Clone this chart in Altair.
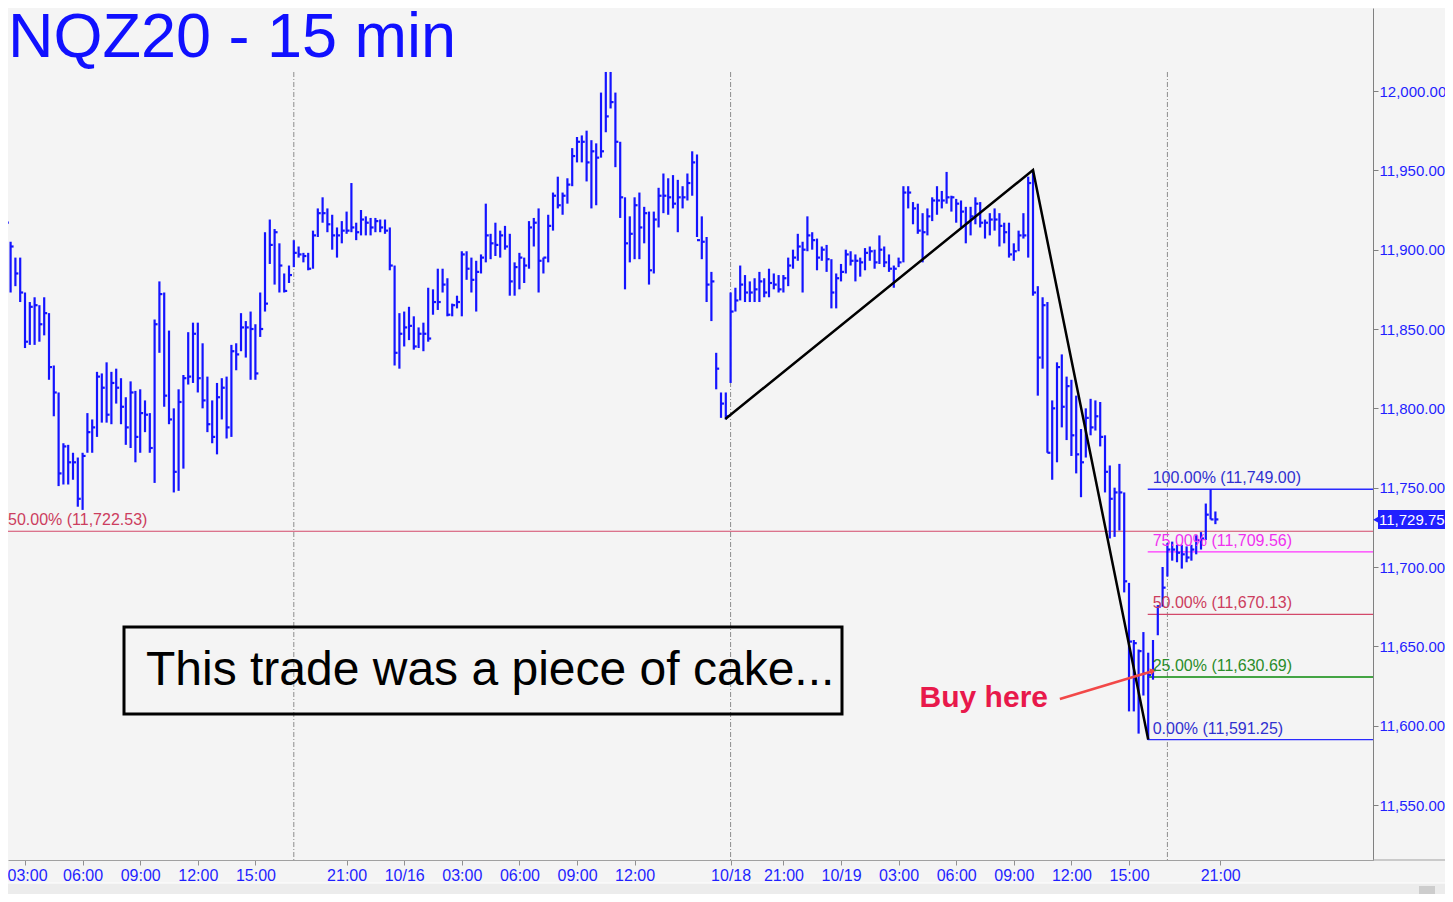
import altair as alt
import pandas as pd

# ---------------- data ----------------
hi = [11920, 11917, 11905, 11895, 11895, 11873, 11867, 11870, 11865, 11870,
      11860, 11827, 11810, 11778, 11777, 11772, 11769, 11772, 11797, 11793,
      11823, 11822, 11829, 11823, 11825, 11819, 11807, 11817, 11811, 11812,
      11805, 11797, 11856, 11880, 11873, 11849, 11800, 11812, 11821, 11848,
      11854, 11854, 11841, 11820, 11805, 11816, 11819, 11820, 11840, 11841,
      11860, 11855, 11861, 11853, 11873, 11911, 11919, 11913, 11904, 11885,
      11890, 11906, 11902, 11898, 11898, 11912, 11926, 11933, 11926, 11922,
      11914, 11918, 11924, 11942, 11917, 11925, 11921, 11920, 11920, 11919,
      11919, 11914, 11890, 11860, 11861, 11864, 11858, 11851, 11854, 11876,
      11875, 11888, 11888, 11882, 11866, 11871, 11899, 11899, 11895, 11893,
      11897, 11929, 11910, 11917, 11912, 11915, 11910, 11892, 11898, 11895,
      11918, 11920, 11926, 11895, 11922, 11936, 11946, 11936, 11945, 11964,
      11971, 11972, 11975, 11969, 11967, 11999, 12012, 12012, 11999, 11968,
      11933, 11921, 11933, 11936, 11927, 11924, 11924, 11939, 11948, 11945,
      11947, 11944, 11940, 11948, 11962, 11960, 11921, 11908, 11886, 11835,
      11810, 11810, 11873, 11876, 11890, 11884, 11880, 11882, 11886, 11882,
      11888, 11885, 11884, 11884, 11895, 11900, 11910, 11905, 11921, 11911,
      11907, 11902, 11903, 11894, 11885, 11891, 11900, 11899, 11897, 11895,
      11901, 11902, 11900, 11909, 11902, 11897, 11890, 11895, 11940, 11940,
      11930, 11929, 11923, 11926, 11933, 11940, 11937, 11949, 11934, 11932,
      11931, 11927, 11927, 11933, 11930, 11919, 11923, 11926, 11923, 11917,
      11917, 11904, 11912, 11923, 11946, 11950, 11877, 11870, 11867, 11805,
      11829, 11834, 11820, 11818, 11808, 11787, 11800, 11806, 11805, 11804,
      11783, 11764, 11750, 11765, 11747, 11690, 11654, 11648, 11659, 11646,
      11654, 11676, 11700, 11715, 11716, 11714, 11714, 11713, 11714, 11720,
      11722, 11740, 11749, 11735]

lo = [11900, 11899, 11873, 11877, 11867, 11838, 11840, 11840, 11842, 11846,
      11818, 11795, 11751, 11752, 11752, 11755, 11738, 11736, 11772, 11772,
      11782, 11791, 11791, 11790, 11803, 11790, 11777, 11775, 11766, 11772,
      11785, 11772, 11753, 11835, 11801, 11790, 11747, 11748, 11762, 11815,
      11816, 11810, 11800, 11785, 11778, 11771, 11793, 11781, 11782, 11824,
      11836, 11832, 11818, 11818, 11845, 11861, 11891, 11878, 11873, 11873,
      11879, 11889, 11895, 11892, 11887, 11888, 11908, 11917, 11911, 11900,
      11895, 11904, 11910, 11911, 11906, 11909, 11909, 11909, 11911, 11911,
      11910, 11887, 11827, 11825, 11839, 11843, 11837, 11838, 11836, 11842,
      11859, 11862, 11873, 11858, 11858, 11863, 11858, 11881, 11873, 11861,
      11885, 11892, 11894, 11896, 11895, 11900, 11871, 11871, 11875, 11879,
      11888, 11902, 11873, 11885, 11892, 11912, 11926, 11922, 11929, 11940,
      11955, 11955, 11943, 11926, 11928, 11958, 11974, 11989, 11952, 11920,
      11875, 11892, 11894, 11894, 11904, 11878, 11885, 11914, 11923, 11922,
      11926, 11911, 11926, 11931, 11934, 11908, 11894, 11867, 11855, 11812,
      11794, 11793, 11816, 11861, 11868, 11867, 11867, 11867, 11867, 11870,
      11870, 11875, 11873, 11873, 11877, 11888, 11893, 11873, 11899, 11900,
      11887, 11893, 11886, 11863, 11863, 11880, 11885, 11890, 11880, 11883,
      11887, 11893, 11888, 11891, 11889, 11886, 11876, 11889, 11892, 11926,
      11916, 11910, 11892, 11909, 11918, 11922, 11926, 11929, 11924, 11917,
      11914, 11904, 11909, 11916, 11914, 11907, 11909, 11912, 11902, 11904,
      11895, 11893, 11899, 11907, 11895, 11871, 11808, 11825, 11772, 11755,
      11766, 11788, 11780, 11770, 11759, 11744, 11769, 11783, 11786, 11776,
      11747, 11718, 11719, 11723, 11684, 11609, 11609, 11595, 11619, 11591,
      11629, 11657, 11675, 11694, 11704, 11703, 11699, 11703, 11704, 11708,
      11711, 11717, 11730, 11727]

close = [11917, 11917, 11902, 11885, 11873, 11842, 11864, 11865, 11853, 11860,
         11826, 11810, 11759, 11776, 11766, 11766, 11743, 11770, 11785, 11788,
         11820, 11813, 11796, 11816, 11813, 11801, 11788, 11810, 11782, 11797,
         11796, 11775, 11853, 11872, 11808, 11793, 11760, 11804, 11819, 11820,
         11847, 11819, 11805, 11790, 11782, 11807, 11813, 11788, 11836, 11834,
         11851, 11851, 11850, 11822, 11850, 11866, 11903, 11911, 11890, 11874,
         11884, 11898, 11897, 11896, 11888, 11909, 11923, 11923, 11916, 11909,
         11909, 11912, 11912, 11914, 11911, 11919, 11917, 11914, 11918, 11914,
         11912, 11890, 11835, 11847, 11851, 11852, 11839, 11847, 11847, 11844,
         11867, 11867, 11878, 11859, 11865, 11867, 11897, 11888, 11881, 11886,
         11895, 11909, 11904, 11903, 11909, 11902, 11880, 11889, 11895, 11890,
         11914, 11917, 11893, 11895, 11915, 11934, 11928, 11934, 11941, 11959,
         11968, 11968, 11955, 11962, 11958, 11962, 11984, 11993, 11968, 11933,
         11904, 11910, 11928, 11914, 11923, 11887, 11919, 11934, 11934, 11933,
         11929, 11933, 11933, 11942, 11955, 11906, 11905, 11878, 11880, 11825,
         11803, 11795, 11861, 11868, 11878, 11873, 11873, 11875, 11880, 11873,
         11879, 11878, 11875, 11882, 11890, 11895, 11902, 11900, 11909, 11906,
         11895, 11900, 11894, 11873, 11882, 11886, 11897, 11893, 11893, 11892,
         11898, 11899, 11892, 11900, 11892, 11888, 11888, 11892, 11936, 11936,
         11926, 11912, 11911, 11921, 11931, 11931, 11931, 11933, 11933, 11929,
         11924, 11917, 11921, 11929, 11917, 11917, 11919, 11919, 11915, 11911,
         11897, 11899, 11909, 11909, 11942, 11873, 11832, 11865, 11772, 11800,
         11826, 11801, 11814, 11783, 11771, 11766, 11794, 11788, 11795, 11782,
         11760, 11743, 11747, 11747, 11691, 11653, 11652, 11647, 11633, 11632,
         11635, 11675, 11687, 11711, 11711, 11709, 11708, 11706, 11711, 11717,
         11718, 11733, 11730, 11730]

tick_idx = [5, 17, 29, 41, 53, 72, 84, 96, 108, 120, 132, 152, 163, 175, 187,
            199, 211, 223, 235, 254]
tick_lab = ["03:00", "06:00", "09:00", "12:00", "15:00", "21:00", "10/16",
            "03:00", "06:00", "09:00", "12:00", "10/18", "21:00", "10/19",
            "03:00", "06:00", "09:00", "12:00", "15:00", "21:00"]
price_ticks = [11550, 11600, 11650, 11700, 11750, 11800, 11850, 11900, 11950, 12000]

session_breaks = [61, 152, 243]

fib_pct = ["100.00%", "75.00%", "50.00%", "25.00%", "0.00%"]
fib_val = [11749.00, 11709.56, 11670.13, 11630.69, 11591.25]

swing_i = [150.9, 215, 239]
swing_p = [11793.3, 11950.2, 11591.25]

arrow_i = [220.6, 240.0]
arrow_p = [11616.8, 11634.5]

mid_level = 11722.53
last_price = 11729.75

title_text = "NQZ20 - 15 min"
box_text = "This trade was a piece of cake..."
buy_text = "Buy here"

# ---------------- styling ----------------
FONT = "Liberation Sans"
BAR = "#1414ff"
AXBLUE = "#1f1fff"
RED = "#d3486a"
fib_line_col = ["#2a2aff", "#ff33ff", "#d3486a", "#0a8a0a", "#2a2aff"]
fib_text_col = ["#3030d0", "#f030f0", "#cc3d5e", "#2a8c2a", "#3030d0"]

W, H = 1365, 852
RIGHT_PAD = 72
X_MIN, X_MAX = 7 / 4.8, 1372 / 4.8
Y_MIN, Y_MAX = 11515.35, 12052.31

xs = alt.Scale(domain=[X_MIN, X_MAX], nice=False, zero=False)
ys = alt.Scale(domain=[Y_MIN, Y_MAX], nice=False, zero=False)

label_expr = "[" + ",".join("'%s'" % t for t in tick_lab) + "][indexof([" + \
    ",".join(str(v) for v in tick_idx) + "], datum.value)]"

xax = alt.Axis(values=tick_idx, labelExpr=label_expr, title=None, grid=False,
               labelColor=AXBLUE, labelFont=FONT, labelFontSize=16,
               tickColor="#909090", tickSize=5, domainColor="#a0a0a0",
               labelPadding=2, labelOverlap=False, labelFlush=False,
               labelOffset={"condition": {"test": "datum.value == %d" % tick_idx[0],
                                          "value": 2}, "value": 0})
yax = alt.Axis(orient="right", values=price_ticks, format=",.2f", title=None,
               grid=False, labelColor=AXBLUE, labelFont=FONT, labelFontSize=15,
               tickColor="#808080", tickSize=5, domainColor="#808080",
               labelPadding=1, labelOverlap=False)


def X(f):
    return alt.X(f, scale=xs, axis=xax)


def Y(f):
    return alt.Y(f, scale=ys, axis=yax)


bars = pd.DataFrame({"i": list(range(len(hi))), "hi": hi, "lo": lo, "close": close})


def one(t):
    return pd.DataFrame({"t": [t]})


layers = []

# session break lines
layers.append(alt.Chart(pd.DataFrame({"b": session_breaks})).mark_rule(
    color="#8c8c8c", strokeWidth=1, strokeDash=[5, 2, 1, 2]).encode(
    x=X("b:Q"), y=alt.value(64), y2=alt.value(H)))

# 50% line of the larger swing
mid_df = pd.DataFrame({"v": [mid_level], "lab": ["50.00%% (%s)" % format(mid_level, ",.2f")]})
layers.append(alt.Chart(mid_df).mark_rule(color=RED, strokeWidth=1.2).encode(
    y=Y("v:Q"), x=alt.value(0), x2=alt.value(W)))

# fib lines
fib_df = pd.DataFrame({
    "val": fib_val, "x0": [swing_i[2] - 0.1] * len(fib_val),
    "lab": ["%s (%s)" % (p, format(v, ",.2f")) for p, v in zip(fib_pct, fib_val)],
    "lc": fib_line_col, "tc": fib_text_col})
layers.append(alt.Chart(fib_df).mark_rule(strokeWidth=1.3).encode(
    x=X("x0:Q"), x2=alt.value(W), y=Y("val:Q"), color=alt.Color("lc:N", scale=None)))

# price bars
layers.append(alt.Chart(bars).mark_rule(color=BAR, strokeWidth=2.2, clip=True).encode(
    x=X("i:Q"), y=Y("lo:Q"), y2="hi:Q"))
layers.append(alt.Chart(bars).transform_calculate(ie="datum.i + 0.62").mark_rule(
    color=BAR, strokeWidth=2.2, clip=True).encode(
    x=X("i:Q"), x2="ie:Q", y=Y("close:Q")))

# swing lines
sw = pd.DataFrame({"i": swing_i, "p": swing_p, "o": [0, 1, 2]})
layers.append(alt.Chart(sw).mark_line(color="black", strokeWidth=2.5, clip=True).encode(
    x=X("i:Q"), y=Y("p:Q"), order="o:Q"))

# arrow
ar = pd.DataFrame({"i": arrow_i, "p": arrow_p, "o": [0, 1]})
layers.append(alt.Chart(ar).mark_line(color="#f24848", strokeWidth=2.5).encode(
    x=X("i:Q"), y=Y("p:Q"), order="o:Q"))
layers.append(alt.Chart(ar.iloc[[1]]).mark_point(
    shape="triangle-right", angle=343, size=45, filled=True, opacity=1,
    color="#f24848").encode(x=X("i:Q"), y=Y("p:Q")))

# fib labels
layers.append(alt.Chart(fib_df).mark_text(
    align="left", baseline="alphabetic", dx=5, dy=-6, font=FONT, fontSize=16).encode(
    x=X("x0:Q"), y=Y("val:Q"), text="lab:N", color=alt.Color("tc:N", scale=None)))

# mid label
layers.append(alt.Chart(mid_df).mark_text(
    align="left", baseline="alphabetic", dy=-6, font=FONT, fontSize=16,
    color="#cc3d5e").encode(x=alt.value(0), y=Y("v:Q"), text="lab:N"))

# title
layers.append(alt.Chart(one(title_text)).mark_text(
    align="left", baseline="alphabetic", font=FONT, fontSize=63,
    color="#1010ff").encode(x=alt.value(0), y=alt.value(49), text="t:N"))

# text box
layers.append(alt.Chart(one(box_text)).mark_rect(
    fillOpacity=0, stroke="black", strokeWidth=3).encode(
    x=alt.value(116), x2=alt.value(834), y=alt.value(619), y2=alt.value(706)))
layers.append(alt.Chart(one(box_text)).mark_text(
    align="left", baseline="alphabetic", font=FONT, fontSize=48,
    color="black").encode(x=alt.value(138), y=alt.value(677), text="t:N"))

# Buy here
layers.append(alt.Chart(one(buy_text)).mark_text(
    align="right", baseline="alphabetic", font=FONT, fontSize=30, fontWeight="bold",
    color="#e8194b").encode(x=alt.value(1040), y=alt.value(699), text="t:N"))

# last price tag
tag = pd.DataFrame({"p": [last_price], "t": [format(last_price, ",.2f")]})
layers.append(alt.Chart(tag).mark_rect(color="#2020ff").encode(
    x=alt.value(1370), x2=alt.value(W + RIGHT_PAD), y=alt.value(502), y2=alt.value(521)))
layers.append(alt.Chart(tag).mark_point(
    shape="triangle-left", size=80, filled=True, opacity=1, color="#2020ff").encode(
    x=alt.value(1369), y=Y("p:Q")))
layers.append(alt.Chart(tag).mark_text(
    align="left", baseline="middle", font=FONT, fontSize=15, color="white").encode(
    x=alt.value(1371), y=Y("p:Q"), text="t:N"))

# bottom axis extension & scrollbar strip
layers.append(alt.Chart(one("a")).mark_rule(color="#a0a0a0").encode(
    x=alt.value(W), x2=alt.value(W + RIGHT_PAD), y=alt.value(H)))
layers.append(alt.Chart(one("s")).mark_rect(color="#ececec").encode(
    x=alt.value(-8), x2=alt.value(W + RIGHT_PAD), y=alt.value(875), y2=alt.value(886)))
layers.append(alt.Chart(one("s")).mark_rule(color="#ffffff").encode(
    x=alt.value(-8), x2=alt.value(W + RIGHT_PAD), y=alt.value(875)))
layers.append(alt.Chart(one("s")).mark_rect(color="#cdcdcd").encode(
    x=alt.value(1411), x2=alt.value(1427), y=alt.value(878), y2=alt.value(886)))

chart = alt.layer(*layers).properties(
    width=W, height=H,
    autosize=alt.AutoSizeParams(type="none"),
    padding={"left": 0, "top": 0, "right": RIGHT_PAD, "bottom": 34},
    background="#f4f4f4",
).configure_view(strokeOpacity=0)

chart.save("out.html", embed_options={"renderer": "svg", "actions": False})
